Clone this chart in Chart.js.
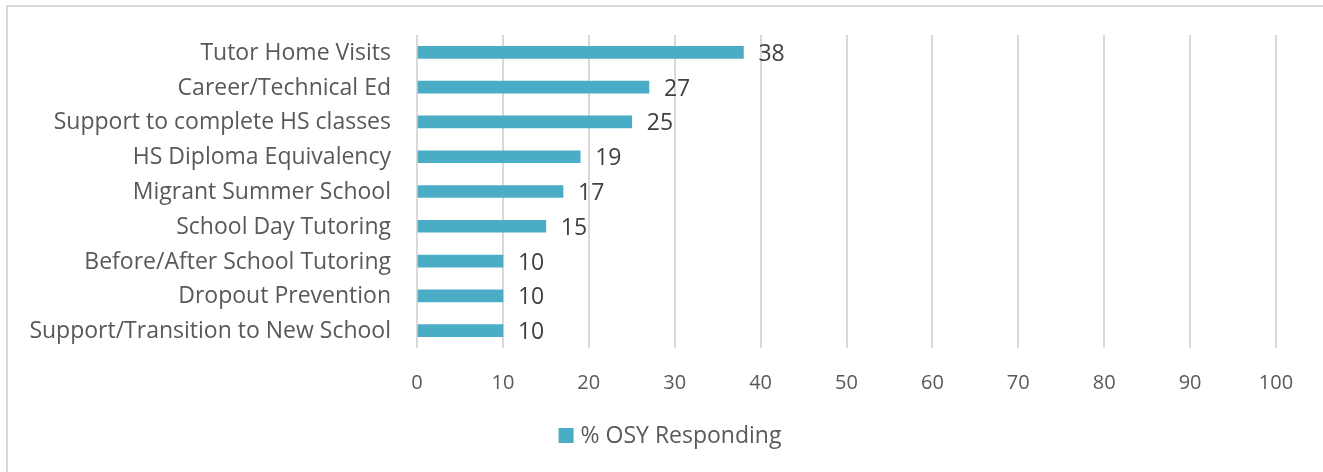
<!DOCTYPE html>
<html>
<head>
<meta charset="utf-8">
<script src="https://cdn.jsdelivr.net/npm/chart.js@4/dist/chart.umd.min.js"></script>
<style>
  html, body { margin: 0; padding: 0; background: #fff; overflow: hidden; }
  #frame { position: absolute; left: 6px; top: 5px; width: 1400px; height: 500px; border: 2px solid #d9d9d9; box-sizing: border-box; }
  #chart { position: absolute; left: 0; top: 0; }
</style>
</head>
<body>
<div id="frame"></div>
<canvas id="chart" width="1323" height="472"></canvas>
<script>
const categories = [
  'Tutor Home Visits',
  'Career/Technical Ed',
  'Support to complete HS classes',
  'HS Diploma Equivalency',
  'Migrant Summer School',
  'School Day Tutoring',
  'Before/After School Tutoring',
  'Dropout Prevention',
  'Support/Transition to New School'
];
const osyResponding = [38, 27, 25, 19, 17, 15, 10, 10, 10];
const seriesName = '% OSY Responding';

const FONT = "'Open Sans', 'Liberation Sans', sans-serif";

// draws the value next to each bar end
const valueLabels = {
  id: 'valueLabels',
  afterDatasetsDraw(chart) {
    const ctx = chart.ctx;
    const meta = chart.getDatasetMeta(0);
    ctx.save();
    ctx.font = '23px ' + FONT;
    ctx.fillStyle = '#404040';
    ctx.textAlign = 'left';
    ctx.textBaseline = 'middle';
    meta.data.forEach((bar, i) => {
      ctx.fillText(String(osyResponding[i]), bar.x + 15, bar.y + 2);
    });
    ctx.restore();
  }
};

// Excel-style legend: small square, tight gap to the text
const bottomLegend = {
  id: 'bottomLegend',
  afterDraw(chart) {
    const ctx = chart.ctx;
    const ds = chart.data.datasets[0];
    ctx.save();
    ctx.font = '23px ' + FONT;
    const textW = ctx.measureText(ds.label).width;
    const total = 15 + 7 + textW;
    const x = 670 - total / 2;
    ctx.fillStyle = ds.backgroundColor;
    ctx.fillRect(x, 428, 15, 15);
    ctx.fillStyle = '#595959';
    ctx.textAlign = 'left';
    ctx.textBaseline = 'alphabetic';
    ctx.fillText(ds.label, x + 22, 443);
    ctx.restore();
  }
};

const ctx = document.getElementById('chart').getContext('2d');
new Chart(ctx, {
  type: 'bar',
  data: {
    labels: categories,
    datasets: [{
      label: seriesName,
      data: osyResponding,
      backgroundColor: '#4bacc6',
      barThickness: 12
    }]
  },
  options: {
    indexAxis: 'y',
    responsive: false,
    animation: false,
    devicePixelRatio: 1,
    layout: { padding: { top: 35, right: 47, bottom: 59, left: 0 } },
    scales: {
      x: {
        min: 0,
        max: 100,
        ticks: { stepSize: 10, color: '#595959', font: { family: FONT, size: 20 }, padding: 23 },
        grid: { color: '#d9d9d9', lineWidth: 2, drawTicks: false },
        border: { display: false },
        afterFit(scale) { scale.height = 65; }
      },
      y: {
        ticks: { color: '#595959', font: { family: FONT, size: 23 }, padding: 26, labelOffset: 1 },
        grid: { display: false, drawTicks: false },
        border: { display: false },
        afterFit(scale) {
          scale.width = 417;
          scale.paddingTop = 0;
          scale.paddingBottom = 0;
        }
      }
    },
    plugins: {
      legend: { display: false },
      tooltip: { enabled: false }
    }
  },
  plugins: [valueLabels, bottomLegend]
});
</script>
</body>
</html>
